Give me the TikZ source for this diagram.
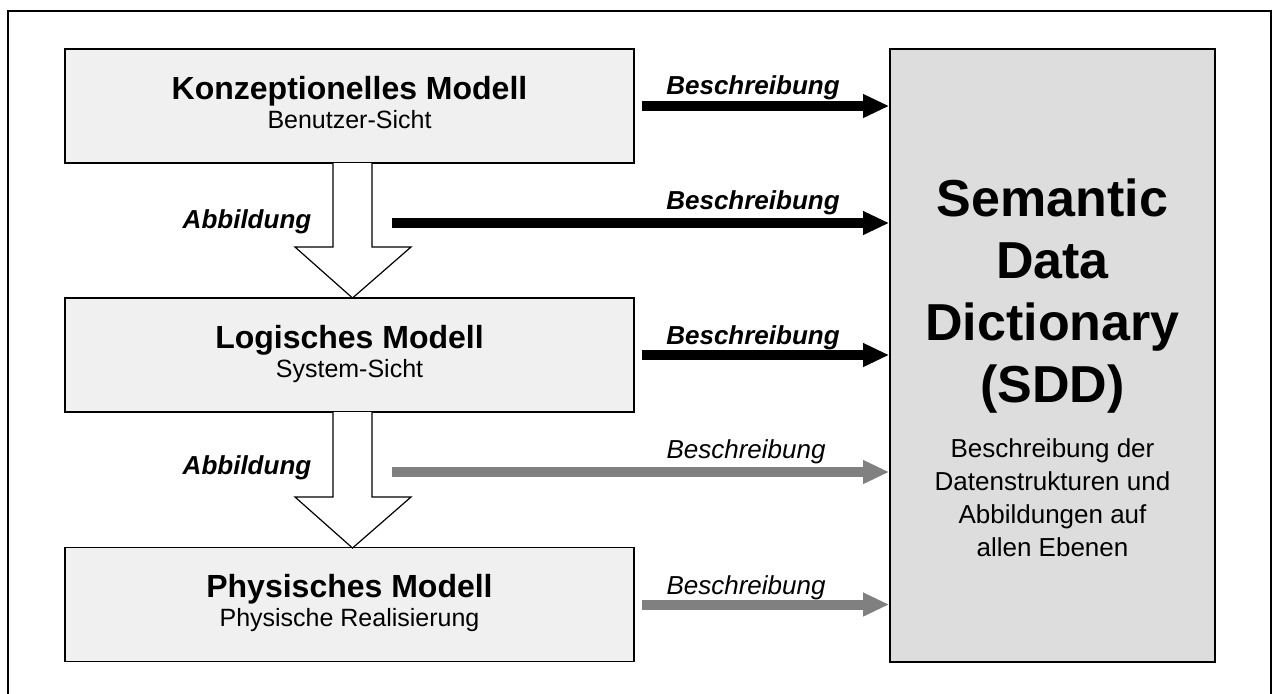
\documentclass[tikz,border=0pt]{standalone}
\usepackage{fontspec}
\setmainfont{Liberation Sans}
\usetikzlibrary{arrows.meta}
\definecolor{boxgray}{HTML}{F0F0F0}
\definecolor{sddgray}{HTML}{DDDDDD}
\definecolor{arrowgray}{HTML}{808080}
\tikzset{
  modelbox/.style={draw, line width=0.8pt, fill=boxgray, minimum width=284.5pt,
    minimum height=57pt, inner sep=0pt, align=center,
    font=\fontsize{16}{15.5}\selectfont\bfseries},
  sddbox/.style={draw, line width=0.8pt, fill=sddgray, minimum width=162.5pt,
    minimum height=306.5pt, inner sep=0pt},
  descarrow/.style={line width=5pt, -{Triangle[length=13pt,width=11pt]}},
  greyarrow/.style={descarrow, draw=arrowgray, fill=arrowgray},
  mapping/.style={draw, fill=white, line width=0.6pt, line join=miter},
  boldlabel/.style={font=\fontsize{13}{15}\selectfont\bfseries\itshape},
  plainlabel/.style={font=\fontsize{13}{15}\selectfont\itshape}
}
\begin{document}
\begin{tikzpicture}[x=0.5pt, y=-0.5pt]
        \useasboundingbox (0,0) rectangle (1272,693);
        \draw[line width=0.7pt] (8,11) rectangle (1271,700);

        \node[modelbox] (konz) at (349.5,106) {Konzeptionelles Modell\\[-1pt]{\fontsize{12.5}{15.5}\selectfont\mdseries Benutzer-Sicht}\rule[-4pt]{0pt}{0pt}};
        \node[modelbox] (logi) at (349.5,355) {Logisches Modell\\[-1pt]{\fontsize{12.5}{15.5}\selectfont\mdseries System-Sicht}\rule[-4pt]{0pt}{0pt}};
        \node[modelbox] (phys) at (349.5,604.5) {Physisches Modell\\[-1pt]{\fontsize{12.5}{15.5}\selectfont\mdseries Physische Realisierung}\rule[-4pt]{0pt}{0pt}};

        \node[sddbox] (sdd) at (1052.5,355.5) {};
        \node[font=\fontsize{26}{31}\selectfont\bfseries, align=center] (sddtitle) at (1052.5,296) {Semantic\\Data\\Dictionary\\(SDD)};
        \node[font=\fontsize{13}{16.5}\selectfont, align=center] (sddtext) at (1052.5,498) {Beschreibung der\\Datenstrukturen und\\Abbildungen auf\\allen Ebenen};

        \draw[mapping] (333,163) -- (333,247) -- (295,247) -- (352.5,298) -- (411,247) -- (372,247) -- (372,163);
        \draw[mapping] (333,412) -- (333,497) -- (295,497) -- (352.5,548) -- (411,497) -- (372,497) -- (372,412);
        \node[boldlabel] (abb1) at (247,222) {Abbildung};
        \node[boldlabel] (abb2) at (247,468) {Abbildung};

        \coordinate (m1) at (392,223);
        \coordinate (m2) at (392,472);
        \draw[descarrow] ([xshift=3.5pt]konz.east) -- (konz.east -| sdd.west);
        \draw[descarrow] (m1) -- (m1 -| sdd.west);
        \draw[descarrow] ([xshift=3.5pt]logi.east) -- (logi.east -| sdd.west);
        \draw[greyarrow] (m2) -- (m2 -| sdd.west);
        \draw[greyarrow] ([xshift=3.5pt]phys.east) -- (phys.east -| sdd.west);

        \node[boldlabel] (b1) at (753,88) {Beschreibung};
        \node[boldlabel] (b2) at (753,203) {Beschreibung};
        \node[boldlabel] (b3) at (753,338) {Beschreibung};
        \node[plainlabel] (b4) at (746,452) {Beschreibung};
        \node[plainlabel] (b5) at (746,588) {Beschreibung};

    \end{tikzpicture}
\end{document}
